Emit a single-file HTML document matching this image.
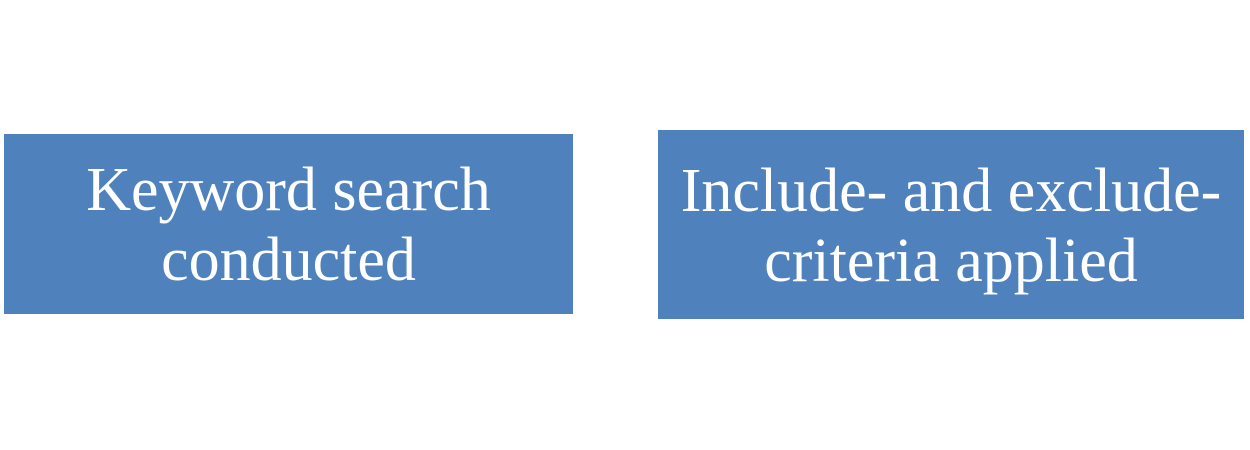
<!DOCTYPE html>
<html><head><style>
html,body{margin:0;padding:0;background:#fff;width:1250px;height:450px;overflow:hidden;position:relative}
.b{position:absolute;background:#4f81bd;color:#fff;font-family:"Liberation Serif",serif;font-size:62px;line-height:70px;text-align:center;display:flex;align-items:center;justify-content:center;white-space:nowrap}
</style></head><body>
<div class="b" style="left:4px;top:134px;width:569px;height:180px"><div style="margin-top:2px">Keyword search<br>conducted</div></div>
<div class="b" style="left:658px;top:130px;width:586px;height:189px"><div style="margin-top:2px">Include- and exclude-<br>criteria applied</div></div>
</body></html>
